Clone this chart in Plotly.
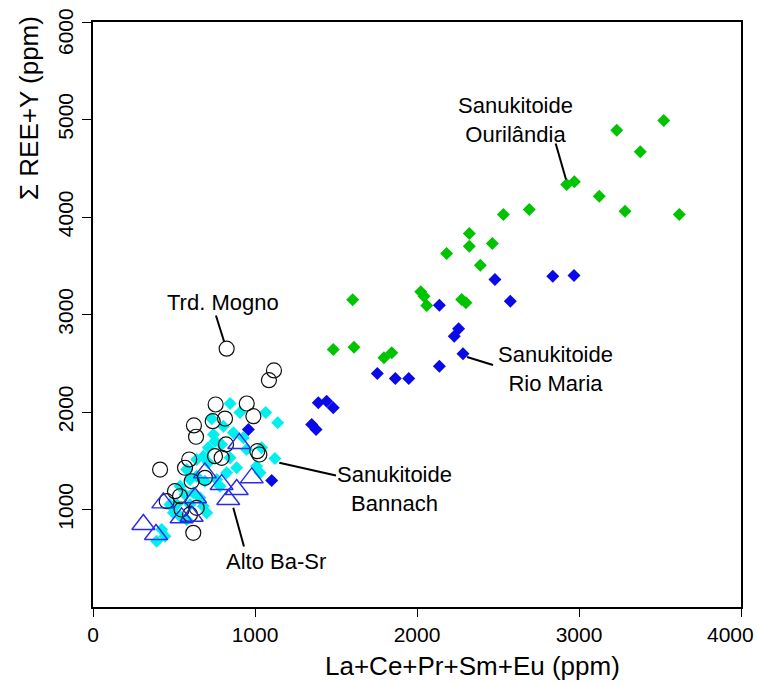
import plotly.graph_objects as go

# Sanukitoide Ourilândia (green diamonds)
our_x = [3233, 3523, 3378, 2924, 2971, 3125, 3284, 3619, 2533, 2693, 2323, 2323, 2465, 2183, 2391,
         1603, 2023, 2043, 2060, 2276, 2302, 1483, 1611, 1796, 1844]
our_y = [4890, 4990, 4669, 4333, 4361, 4213, 4059, 4026, 4026, 4077, 3831, 3701, 3728, 3626, 3505,
         3151, 3233, 3188, 3092, 3154, 3120, 2641, 2665, 2556, 2607]

# Sanukitoide Rio Maria (blue diamonds)
rm_x = [2481, 2838, 2969, 2576, 2138, 2257, 2230, 2284, 2138, 1755, 1866, 1949, 1391, 1442, 1483,
        1350, 1377, 959, 1103]
rm_y = [3359, 3393, 3400, 3137, 3095, 2853, 2778, 2597, 2470, 2395, 2344, 2344, 2094, 2111, 2043,
        1872, 1821, 1821, 1297]

# Sanukitoide Bannach (cyan diamonds)
ban_x = [846, 907, 1066, 1140, 733, 805, 743, 866, 753, 712, 794, 928, 948, 1041, 1123, 640, 681,
         712, 846, 887, 825, 1010, 1031, 578, 599, 640, 691, 764, 784, 537, 568, 619, 660, 681, 517,
         599, 496, 537, 578, 702, 424, 393, 444, 475]
ban_y = [2087, 1995, 1995, 1890, 1930, 1854, 1769, 1786, 1700, 1633, 1667, 1735, 1615, 1633, 1523,
         1513, 1547, 1479, 1530, 1428, 1376, 1444, 1376, 1410, 1308, 1342, 1290, 1308, 1239, 1239,
         1154, 1171, 1120, 1034, 1051, 1051, 966, 931, 897, 966, 795, 675, 726, 1051]

# Trd. Mogno (open black circles)
mog_x = [825, 1117, 1086, 757, 949, 990, 739, 815, 623, 636, 821, 1014, 1027, 753, 794, 568, 594,
         414, 609, 691, 506, 537, 455, 547, 599, 640, 619]
mog_y = [2649, 2426, 2326, 2077, 2087, 1957, 1906, 1933, 1862, 1746, 1667, 1598, 1564, 1547, 1530,
         1428, 1513, 1410, 1290, 1325, 1188, 1136, 1085, 1000, 949, 1017, 761]

# Alto Ba-Sr (open blue triangles)
alto_x = [903, 691, 980, 794, 887, 835, 434, 630, 609, 547, 311, 389]
alto_y = [1677, 1376, 1325, 1256, 1205, 1103, 1068, 1120, 931, 915, 846, 744]

x_ticks = [0, 1000, 2000, 3000, 4000]
# the last label ("4000") is drawn separately, nudged left as in the reference
x_ticklabels = ["0", "1000", "2000", "3000", ""]
x_last_label = "4000"
y_ticks = [1000, 2000, 3000, 4000, 5000, 6000]
# the top label ("6000") is drawn separately, nudged down as in the reference
y_ticklabels = ["1000", "2000", "3000", "4000", "5000", ""]
y_top_label = "6000"

FONT = "Liberation Sans, Arial, sans-serif"

W, H = 757, 684
ml, mr, mt, mb = 93, 16, 22, 77
pw, ph = W - ml - mr, H - mt - mb

fig = go.Figure()
fig.add_trace(go.Scatter(x=our_x, y=our_y, mode="markers", name="Sanukitoide Ourilândia",
                         marker=dict(symbol="diamond", size=10, color="#00c400", line=dict(width=0))))
fig.add_trace(go.Scatter(x=ban_x, y=ban_y, mode="markers", name="Sanukitoide Bannach",
                         marker=dict(symbol="diamond", size=10, color="#00f0f0", line=dict(width=0))))
fig.add_trace(go.Scatter(x=rm_x, y=rm_y, mode="markers", name="Sanukitoide Rio Maria",
                         marker=dict(symbol="diamond", size=10, color="#0a0ae8", line=dict(width=0))))
fig.add_trace(go.Scatter(x=mog_x, y=mog_y, mode="markers", name="Trd. Mogno",
                         marker=dict(symbol="circle-open", size=15, color="#111111",
                                     line=dict(width=1.2, color="#111111"))))
fig.add_trace(go.Scatter(x=alto_x, y=alto_y, mode="markers", name="Alto Ba-Sr",
                         marker=dict(symbol="triangle-up-open", size=20, color="#2a2ae8",
                                     line=dict(width=1.4, color="#2a2ae8"))))

# leader lines
leaders = [((759, 2990), (809, 2723)),
           ((2856, 4754), (2920, 4385)),
           ((2309, 2564), (2469, 2482)),
           ((1150, 1479), (1500, 1349)),
           ((866, 1017), (932, 621))]
for (x0, y0), (x1, y1) in leaders:
    fig.add_shape(type="line", x0=x0, y0=y0, x1=x1, y1=y1, xref="x", yref="y",
                  line=dict(color="black", width=2))

labels = [("Trd. Mogno", 802, 3123),
          ("Sanukitoide<br>Ourilândia", 2611, 5000),
          ("Sanukitoide<br>Rio Maria", 2852, 2436),
          ("Sanukitoide<br>Bannach", 1864, 1215),
          ("Alto Ba-Sr", 1130, 467)]
for t, x, y in labels:
    fig.add_annotation(text=t, x=x, y=y, xref="x", yref="y", showarrow=False,
                       font=dict(size=22, color="black", family=FONT), xanchor="center", yanchor="middle")

# edge tick labels nudged inside the page
fig.add_annotation(text=y_top_label, x=(65 - ml) / pw, y=(H - mb - 32) / ph,
                   xref="paper", yref="paper", xanchor="center", yanchor="middle",
                   textangle=-90, showarrow=False,
                   font=dict(size=21, color="black", family=FONT))
fig.add_annotation(text=x_last_label, x=(730 - ml) / pw, y=(H - mb - 634) / ph,
                   xref="paper", yref="paper", xanchor="center", yanchor="middle",
                   showarrow=False,
                   font=dict(size=21, color="black", family=FONT))

# axis titles (placed in paper coordinates)
fig.add_annotation(text="La+Ce+Pr+Sm+Eu (ppm)", x=(472 - ml) / pw, y=(H - mb - 666) / ph,
                   xref="paper", yref="paper", xanchor="center", yanchor="middle",
                   showarrow=False, font=dict(size=26, color="black", family=FONT))
fig.add_annotation(text="Σ REE+Y (ppm)", x=(29 - ml) / pw, y=(H - mb - 108) / ph,
                   xref="paper", yref="paper", xanchor="center", yanchor="middle",
                   textangle=-90, showarrow=False,
                   font=dict(size=26, color="black", family=FONT))

fig.update_layout(
    width=W, height=H,
    margin=dict(l=ml, r=mr, t=mt, b=mb, autoexpand=False),
    plot_bgcolor="white", paper_bgcolor="white",
    showlegend=False,
    font=dict(family=FONT, color="black"),
)
fig.update_xaxes(range=[0, 4000], tickvals=x_ticks, ticktext=x_ticklabels,
                 showgrid=False, zeroline=False, showline=True, linecolor="black", linewidth=1.5,
                 mirror=True, ticks="outside", ticklen=8, tickwidth=1.2, tickcolor="black",
                 ticklabeloverflow="allow", automargin=False,
                 tickfont=dict(size=21, family=FONT, color="black"))
fig.update_yaxes(range=[0, 6000], tickvals=y_ticks, ticktext=y_ticklabels,
                 showgrid=False, zeroline=False, showline=True, linecolor="black", linewidth=1.5,
                 mirror=True, ticks="outside", ticklen=9, tickwidth=1.2, tickcolor="black",
                 ticklabeloverflow="allow", ticklabelstandoff=1, automargin=False,
                 tickangle=-90, tickfont=dict(size=21, family=FONT, color="black"))

fig.write_html("out.html")
